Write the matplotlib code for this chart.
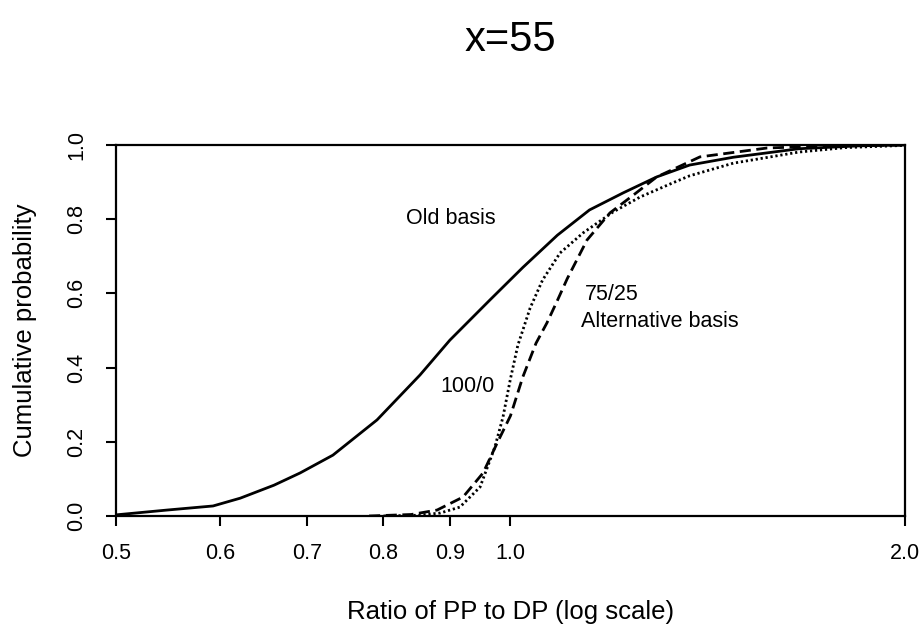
import matplotlib
matplotlib.use('Agg')
import matplotlib.pyplot as plt
import matplotlib.ticker as ticker

plt.rcParams['font.family'] = ['Liberation Sans', 'DejaVu Sans']

# Old basis (solid)
old_x = [0.5, 0.547, 0.593, 0.622, 0.66, 0.691, 0.732, 0.791, 0.853, 0.899, 0.965,
         1.022, 1.086, 1.149, 1.219, 1.293, 1.37, 1.479, 1.66, 1.85, 2.0]
old_y = [0.003, 0.016, 0.027, 0.048, 0.083, 0.116, 0.164, 0.259, 0.38, 0.474, 0.583,
         0.67, 0.757, 0.825, 0.871, 0.914, 0.946, 0.967, 0.99, 0.998, 1.0]

# Alternative basis 100/0 (dotted)
alt100_x = [0.8, 0.85, 0.884, 0.915, 0.948, 0.973, 0.987, 1.0, 1.013, 1.035, 1.058,
            1.091, 1.136, 1.197, 1.256, 1.33, 1.37, 1.479, 1.66, 1.8, 2.0]
alt100_y = [0.0, 0.002, 0.008, 0.024, 0.078, 0.186, 0.267, 0.37, 0.46, 0.56, 0.636,
            0.709, 0.763, 0.819, 0.86, 0.898, 0.917, 0.951, 0.981, 0.993, 0.999]

# Alternative basis 75/25 (dashed)
alt75_x = [0.78, 0.84, 0.879, 0.92, 0.953, 0.977, 1.0, 1.022, 1.046, 1.066, 1.085,
           1.105, 1.144, 1.191, 1.241, 1.293, 1.347, 1.395, 1.57, 1.8, 2.0]
alt75_y = [0.0, 0.004, 0.016, 0.051, 0.116, 0.197, 0.27, 0.375, 0.466, 0.52, 0.578,
           0.64, 0.744, 0.817, 0.865, 0.914, 0.943, 0.968, 0.992, 0.999, 1.0]

xticks = [0.5, 0.6, 0.7, 0.8, 0.9, 1.0, 2.0]
xtick_labels = ['0.5', '0.6', '0.7', '0.8', '0.9', '1.0', '2.0']
yticks = [0.0, 0.2, 0.4, 0.6, 0.8, 1.0]
ytick_labels = ['0.0', '0.2', '0.4', '0.6', '0.8', '1.0']

fig = plt.figure(figsize=(9.24, 6.24), dpi=100)
ax = fig.add_axes([0.1255, 0.1731, 0.8539, 0.5945])

ax.plot(old_x, old_y, color='black', lw=2.0, linestyle='-')
ax.plot(alt100_x, alt100_y, color='black', lw=2.0, linestyle=(0, (0.8, 1.0)))
ax.plot(alt75_x, alt75_y, color='black', lw=2.0, linestyle=(0, (4, 2)))

ax.set_xscale('log')
ax.set_xlim(0.5, 2.0)
ax.set_ylim(0.0, 1.0)
ax.xaxis.set_major_locator(ticker.FixedLocator(xticks))
ax.xaxis.set_major_formatter(ticker.FixedFormatter(xtick_labels))
ax.xaxis.set_minor_locator(ticker.NullLocator())
ax.set_yticks(yticks)
ax.set_yticklabels(ytick_labels, rotation=90, va='center')

for s in ax.spines.values():
    s.set_linewidth(1.6)
ax.tick_params(axis='both', direction='out', length=7.5, width=1.5, labelsize=15.5)
ax.tick_params(axis='x', pad=12)
ax.tick_params(axis='y', pad=13)

ax.set_xlabel('Ratio of PP to DP (log scale)', fontsize=18.5, va='center')
ax.xaxis.set_label_coords(0.5, -0.259)
ax.set_ylabel('Cumulative probability', fontsize=18.5, va='center')
ax.yaxis.set_label_coords(-0.1153, 0.5)

ax.text(0.833, 0.803, 'Old basis', fontsize=15.5, ha='left', va='center')
ax.text(0.928, 0.348, '100/0', fontsize=15.5, ha='center', va='center')
ax.text(1.14, 0.596, '75/25', fontsize=15.5, ha='left', va='center')
ax.text(1.131, 0.523, 'Alternative basis', fontsize=15.5, ha='left', va='center')

fig.text(510 / 924, 1 - 40 / 624, 'x=55', fontsize=30, ha='center', va='center')

plt.savefig('out.png', dpi=100)
